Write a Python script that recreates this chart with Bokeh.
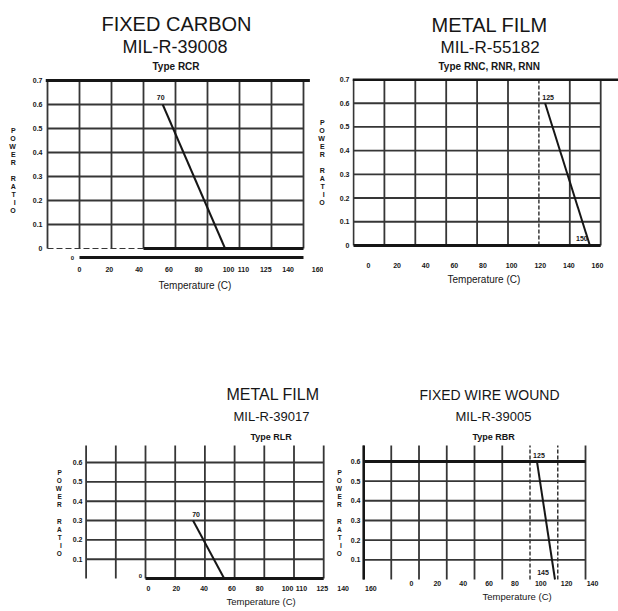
from bokeh.plotting import figure
from bokeh.models import Range1d, LinearAxis, FixedTicker, Title
from bokeh.layouts import row, column
from bokeh.embed import file_html
from bokeh.resources import INLINE
from bokeh.core.properties import value

# ---------------- data ----------------
X_TITLE = "Temperature (C)"
Y_TITLE = "POWER RATIO"

# Chart 1 - Fixed Carbon
c1_title = ["FIXED CARBON", "MIL-R-39008", "Type RCR"]
c1_grid_x = [-20, 0, 20, 40, 60, 80, 100, 120, 140]
c1_grid_y = [0.1, 0.2, 0.3, 0.4, 0.5, 0.6]
c1_top = 0.7
c1_base_y = -0.0375
c1_y_ticks = [0, 0.1, 0.2, 0.3, 0.4, 0.5, 0.6, 0.7]
c1_y_labels = ["0", "0.1", "0.2", "0.3", "0.4", "0.5", "0.6", "0.7"]
c1_x_ticks = [0, 20, 40, 60, 80, 100, 110, 125, 140, 160]
c1_derate_x = [52, 91]
c1_derate_y = [0.6, 0.0]
c1_point_labels = ["70", ""]

# Chart 2 - Metal Film MIL-R-55182
c2_title = ["METAL FILM", "MIL-R-55182", "Type RNC, RNR, RNN"]
c2_grid_x = [0, 20, 40, 60, 80, 100, 140, 160]
c2_grid_x_dashed = [120]
c2_grid_y = [0.1, 0.2, 0.3, 0.4, 0.5, 0.6]
c2_top = 0.7
c2_y_ticks = [0, 0.1, 0.2, 0.3, 0.4, 0.5, 0.6, 0.7]
c2_y_labels = ["0", "0.1", "0.2", "0.3", "0.4", "0.5", "0.6", "0.7"]
c2_x_ticks = [0, 20, 40, 60, 80, 100, 120, 140, 160]
c2_derate_x = [124, 153]
c2_derate_y = [0.6, 0.0]
c2_point_labels = ["125", "150"]

# Chart 3 - Metal Film MIL-R-39017
c3_title = ["METAL FILM", "MIL-R-39017", "Type RLR"]
c3_grid_x = [-40, -20, 0, 20, 40, 60, 80, 100, 120]
c3_grid_y = [0.1, 0.2, 0.3, 0.4, 0.5, 0.6]
c3_top = 0.69
c3_y_ticks = [0.1, 0.2, 0.3, 0.4, 0.5, 0.6]
c3_y_labels = ["0.1", "0.2", "0.3", "0.4", "0.5", "0.6"]
c3_x_ticks = [0, 20, 40, 60, 80, 100, 110, 125, 140, 160]
c3_derate_x = [32, 53]
c3_derate_y = [0.3, 0.0]
c3_point_labels = ["70", ""]

# Chart 4 - Fixed Wire Wound MIL-R-39005
c4_title = ["FIXED WIRE WOUND", "MIL-R-39005", "Type RBR"]
c4_grid_x = [0, 20, 40, 60, 80, 100, 160]
c4_grid_x_dashed = [120, 140]
c4_grid_y = [0.1, 0.2, 0.3, 0.4, 0.5, 0.6]
c4_top = 0.69
c4_y_ticks = [0.1, 0.2, 0.3, 0.4, 0.5, 0.6]
c4_y_labels = ["0.1", "0.2", "0.3", "0.4", "0.5", "0.6"]
c4_x_ticks = [0, 20, 40, 60, 80, 100, 120, 140]
c4_derate_x = [125, 138]
c4_derate_y = [0.6, 0.0]
c4_point_labels = ["125", "145"]

# ---------------- style ----------------
INK = "#161616"
GRID = "#363636"
SANS = "Liberation Sans"
STACKED_Y = "\n".join(Y_TITLE)


def setup(w, h, ml, mr, mt, mb, xr, yr, labr, y_ticks, y_labels, y_std, yl_std,
          yl_size, x_ticks, x_std, ylabel=STACKED_Y, margin=None):
    p = figure(width=w, height=h, x_range=Range1d(*xr), y_range=Range1d(*yr),
               x_axis_type=None, title=None, output_backend="svg",
               toolbar_location=None, min_border_left=ml, min_border_right=mr,
               min_border_top=mt, min_border_bottom=mb)
    if margin is not None:
        p.margin = margin
    p.extra_x_ranges = {"lab": Range1d(*labr)}
    p.outline_line_color = None
    p.background_fill_color = None
    p.border_fill_color = None
    p.grid.visible = False

    ya = p.yaxis[0]
    ya.ticker = FixedTicker(ticks=y_ticks)
    ya.major_label_overrides = {t: s for t, s in zip(y_ticks, y_labels)}
    ya.axis_line_color = None
    ya.major_tick_line_color = None
    ya.minor_tick_line_color = None
    ya.major_tick_out = 0
    ya.major_tick_in = 0
    ya.major_label_standoff = y_std
    ya.major_label_text_font = SANS
    ya.major_label_text_font_size = "7px"
    ya.major_label_text_font_style = "bold"
    ya.major_label_text_color = INK
    ya.axis_label = ylabel
    ya.axis_label_orientation = "horizontal"
    ya.axis_label_text_font = SANS
    ya.axis_label_text_font_size = yl_size
    ya.axis_label_text_font_style = "bold"
    ya.axis_label_text_color = INK
    ya.axis_label_standoff = yl_std
    ya.axis_label_text_line_height = 1.15

    xa = LinearAxis(x_range_name="lab", ticker=FixedTicker(ticks=x_ticks))
    xa.axis_line_color = None
    xa.major_tick_line_color = None
    xa.minor_tick_line_color = None
    xa.major_tick_out = 0
    xa.major_tick_in = 0
    xa.major_label_standoff = x_std
    xa.major_label_text_font = SANS
    xa.major_label_text_font_size = "7px"
    xa.major_label_text_font_style = "bold"
    xa.major_label_text_color = INK
    p.add_layout(xa, "below")
    return p


def titles(p, lines):
    # lines ordered from the frame outward
    for text, size, style, off, so, va in lines:
        p.add_layout(Title(text=text, text_font=SANS, text_font_size=size,
                           text_font_style=style, text_color=INK, align="left",
                           vertical_align=va, offset=off, standoff=so), "above")


def x_title(p, size, off, so):
    p.add_layout(Title(text=X_TITLE, text_font=SANS, text_font_size=size,
                       text_font_style="normal", text_color=INK, align="left",
                       offset=off, standoff=so), "below")


def grid(p, gx, gy, top, dashed=()):
    n = len(gx)
    p.segment(x0=gx, y0=[0] * n, x1=gx, y1=[top] * n, line_color=GRID, line_width=1.8)
    if dashed:
        m = len(dashed)
        p.segment(x0=list(dashed), y0=[0] * m, x1=list(dashed), y1=[top] * m,
                  line_color=GRID, line_width=1.5, line_dash="4 2")
    k = len(gy)
    xs = list(gx) + list(dashed)
    p.segment(x0=[min(xs)] * k, y0=gy, x1=[max(xs)] * k, y1=gy,
              line_color=GRID, line_width=1.9)


def derate(p, xs, ys, labels, dx, dy):
    p.line(xs, ys, line_color=INK, line_width=2)
    for x, y, t, ox, oy in zip(xs, ys, labels, dx, dy):
        if t:
            p.text(x=[x], y=[y], text=[t], x_offset=ox, y_offset=oy,
                   text_font=value(SANS), text_font_size="7px",
                   text_font_style="bold", text_color=INK,
                   text_align="center", text_baseline="middle")


# ---------------- chart 1 ----------------
p1 = setup(323, 320, 45, 3, 78, 58, (-21.25, 150.63), (-0.0583, 0.7083),
           (-22.82, 161.74), c1_y_ticks, c1_y_labels, 3, 14, "7px", c1_x_ticks, 4)
grid(p1, c1_grid_x, c1_grid_y, c1_top)
p1.segment(x0=[p1.x_range.start], y0=[c1_top], x1=[144], y1=[c1_top],
           line_color=INK, line_width=3)
p1.segment(x0=[c1_grid_x[0]], y0=[0], x1=[40], y1=[0], line_color=GRID,
           line_width=1.2, line_dash="6 3")
p1.segment(x0=[40], y0=[0], x1=[c1_grid_x[-1]], y1=[0], line_color=INK, line_width=3)
p1.segment(x0=[0], y0=[c1_base_y], x1=[c1_grid_x[-1]], y1=[c1_base_y],
           line_color=INK, line_width=3)
p1.text(x=[0], y=[c1_base_y], text=["0"], x_offset=-7, y_offset=0,
        text_font=value(SANS), text_font_size="6px", text_font_style="bold",
        text_color=INK, text_align="center", text_baseline="middle")
derate(p1, c1_derate_x, c1_derate_y, c1_point_labels, [-2, 0], [-7, 0])
titles(p1, [(c1_title[2], "10px", "bold", 107, 9, "top"),
            (c1_title[1], "18px", "normal", 77, 0, "bottom"),
            (c1_title[0], "20px", "normal", 56, 0, "bottom")])
x_title(p1, "10px", 113, 6)

# ---------------- chart 2 ----------------
p2 = setup(303, 320, 37, 0, 78, 58, (-0.647, 171.52), (-0.0717, 0.7042),
           (-11.18, 174.7), c2_y_ticks, c2_y_labels, 3, 12, "7px", c2_x_ticks, 0,
           ylabel=STACKED_Y + "\n \n ", margin=(0, 0, 0, -8))
grid(p2, c2_grid_x, c2_grid_y, c2_top, c2_grid_x_dashed)
p2.segment(x0=[p2.x_range.start], y0=[c2_top], x1=[p2.x_range.end], y1=[c2_top],
           line_color=INK, line_width=3)
p2.segment(x0=[c2_grid_x[0]], y0=[0], x1=[c2_grid_x[-1]], y1=[0],
           line_color=INK, line_width=3)
derate(p2, c2_derate_x, c2_derate_y, c2_point_labels, [3, -8], [-6, -7])
titles(p2, [(c2_title[2], "10px", "bold", 86, 9, "top"),
            (c2_title[1], "17px", "normal", 88, 0, "bottom"),
            (c2_title[0], "20px", "normal", 79, 0, "bottom")])
x_title(p2, "10px", 95, 2)

# ---------------- chart 3 ----------------
p3 = setup(383, 291, 84, 3, 125, 31, (-41.08, 158.25), (-0.0103, 0.688),
           (-46.04, 166.91), c3_y_ticks, c3_y_labels, 2, 8, "6.5px", c3_x_ticks, 5)
grid(p3, c3_grid_x, c3_grid_y, c3_top)
p3.segment(x0=[0], y0=[0], x1=[c3_grid_x[-1]], y1=[0], line_color=INK, line_width=3)
p3.text(x=[0], y=[0], text=["0"], x_offset=-5, y_offset=-3,
        text_font=value(SANS), text_font_size="6px", text_font_style="bold",
        text_color=INK, text_align="center", text_baseline="middle")
derate(p3, c3_derate_x, c3_derate_y, c3_point_labels, [3, 0], [-6, 0])
titles(p3, [(c3_title[2], "9px", "bold", 166, 8, "bottom"),
            (c3_title[1], "13px", "normal", 149, 3, "bottom"),
            (c3_title[0], "16px", "normal", 142, 6, "bottom")])
x_title(p3, "9.5px", 142, 0)

# ---------------- chart 4 ----------------
p4 = setup(288, 291, 32, 13, 125, 31, (-0.72, 174.4), (-0.0051, 0.6812),
           (-37.9, 150.04), c4_y_ticks, c4_y_labels, 2, 6, "6.5px", c4_x_ticks, 0,
           margin=(0, 0, 0, -53))
grid(p4, c4_grid_x, c4_grid_y, c4_top, c4_grid_x_dashed)
p4.segment(x0=[c4_grid_x[0]], y0=[c4_grid_y[-1]], x1=[c4_grid_x[-1]], y1=[c4_grid_y[-1]],
           line_color=INK, line_width=3)
p4.segment(x0=[c4_grid_x[0]], y0=[0], x1=[c4_grid_x[0]], y1=[c4_top],
           line_color=INK, line_width=3)
derate(p4, c4_derate_x, c4_derate_y, c4_point_labels, [2, -12], [-6, -7])
titles(p4, [(c4_title[2], "9px", "bold", 110, 8, "bottom"),
            (c4_title[1], "13px", "normal", 93, 3, "bottom"),
            (c4_title[0], "14px", "normal", 57, 6, "bottom")])
x_title(p4, "9.5px", 120, 0)

layout = column(row(p1, p2), row(p3, p4))
open("out.html", "w").write(file_html(layout, INLINE))
